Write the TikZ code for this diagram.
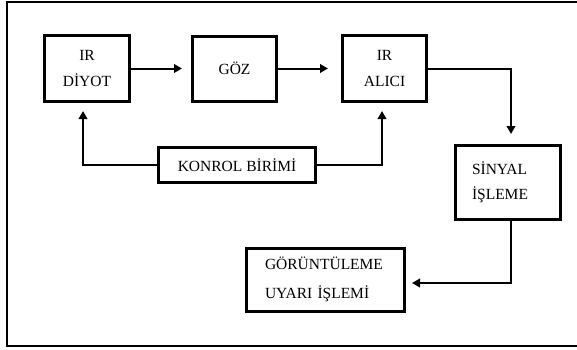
\documentclass[tikz,border=0pt]{standalone}
\usepackage{fontspec}
\setmainfont{Liberation Serif}
\usetikzlibrary{arrows.meta}
\tikzset{block/.style={draw=black, line width=3pt, inner sep=0pt,
        font=\fontsize{15.5pt}{18pt}\selectfont},
    link/.style={draw=black, line width=2pt, -{Triangle[length=8pt,width=8.5pt]}}}

\begin{document}
\begin{tikzpicture}[x=1pt, y=-1pt]
    \useasboundingbox (0,0) rectangle (577,349);
    % outer frame
    \draw[line width=2pt] (590,1.5) -- (6.5,1.5) -- (6.5,345.5) -- (590,345.5);
    % blocks
    \node[block, minimum width=85pt, minimum height=66pt, align=center]
        (diyot) at (87,68.5) {IR\\[8pt]DİYOT};
    \node[block, minimum width=84pt, minimum height=65pt]
        (goz) at (234.5,68.5) {GÖZ};
    \node[block, minimum width=84pt, minimum height=66pt, align=center]
        (alici) at (384.5,68.5) {IR\\[8pt]ALICI};
    \node[block, minimum width=157pt, minimum height=35pt]
        (kontrol) at (237,165) {KONROL BİRİMİ};
    \node[block, minimum width=105pt, minimum height=74pt, text width=72pt, align=left]
        (sinyal) at (508,182.5) {SİNYAL\\[7pt]İŞLEME};
    \node[block, minimum width=158pt, minimum height=63pt, text width=121pt, align=left]
        (goruntu) at (325.5,279.5) {GÖRÜNTÜLEME\\[11pt]UYARI İŞLEMİ};
    % connectors
    \draw[link, shorten >=9pt]  (diyot) -- (goz);
    \draw[link, shorten >=13pt] (goz) -- (alici);
    \draw[link, shorten >=10pt] (alici.east) -| ([xshift=3pt]sinyal.north);
    \draw[link, shorten >=6pt]  ([xshift=3pt]sinyal.south) |- ([yshift=-3.5pt]goruntu.east);
    \draw[link, shorten >=8pt]  (kontrol.west) -| ([xshift=-4pt]diyot.south);
    \draw[link, shorten >=8pt]  (kontrol.east) -| ([xshift=-2.5pt]alici.south);
\end{tikzpicture}
\end{document}
